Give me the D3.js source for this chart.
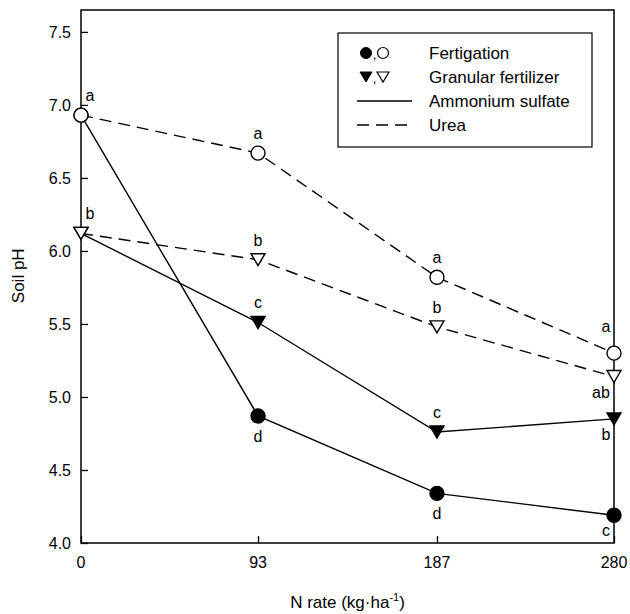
<!DOCTYPE html>
<html>
<head>
<meta charset="utf-8">
<title>Soil pH</title>
<script src="https://d3js.org/d3.v7.min.js"></script>
<style>
  body { margin: 0; background: #fff; }
  text { font-family: Arial, "Liberation Sans", sans-serif; fill: #000; }
</style>
</head>
<body>
<div id="chart"></div>
<script>
// N rates (kg/ha)
var rates = [0, 93, 187, 280];
var yTicks = [4.0, 4.5, 5.0, 5.5, 6.0, 6.5, 7.0, 7.5];

// soil pH per treatment
var fertAS   = [6.93, 4.87, 4.34, 4.19];
var granAS   = [6.12, 5.51, 4.76, 4.85];
var fertUrea = [6.93, 6.67, 5.82, 5.30];
var granUrea = [6.12, 5.94, 5.48, 5.14];

// significance letters (null = none)
var fertASLetters   = [null, "d", "d", "c"];
var granASLetters   = [null, "c", "c", "b"];
var fertUreaLetters = ["a", "a", "a", "a"];
var granUreaLetters = ["b", "b", "b", "ab"];

var W = 630, H = 614;
var x = d3.scaleLinear().domain([0, 280]).range([81, 614]);
var y = d3.scaleLinear().domain([4, 7.65]).range([543, 10]);

var svg = d3.select("#chart").append("svg")
    .attr("width", W).attr("height", H);

// frame
svg.append("rect")
    .attr("x", x(0)).attr("y", y(7.65))
    .attr("width", x(280) - x(0)).attr("height", y(4) - y(7.65))
    .attr("fill", "none").attr("stroke", "#000").attr("stroke-width", 1.5);

// axes with inward ticks
var yAxis = svg.append("g")
    .attr("transform", "translate(" + x(0) + ",0)")
    .call(d3.axisRight(y).tickValues(yTicks).tickSize(7).tickFormat(""));
yAxis.select(".domain").remove();
yAxis.selectAll("line").attr("stroke-width", 1.3);

var xAxis = svg.append("g")
    .attr("transform", "translate(0," + y(4) + ")")
    .call(d3.axisTop(x).tickValues(rates).tickSize(7).tickFormat(""));
xAxis.select(".domain").remove();
xAxis.selectAll("line").attr("stroke-width", 1.3);

// tick labels
svg.selectAll(".ylab").data(yTicks).enter().append("text")
    .attr("x", 71).attr("y", function (d) { return y(d) + 6; })
    .attr("text-anchor", "end").style("font-size", "16px")
    .text(function (d) { return d.toFixed(1); });

svg.selectAll(".xlab").data(rates).enter().append("text")
    .attr("x", function (d) { return x(d); }).attr("y", 568)
    .attr("text-anchor", "middle").style("font-size", "16px")
    .text(function (d) { return d; });

// axis titles
var xt = svg.append("text")
    .attr("x", x(140)).attr("y", 608)
    .attr("text-anchor", "middle").style("font-size", "17px");
xt.append("tspan").text("N rate (kg\u00B7ha");
xt.append("tspan").attr("dy", -7).style("font-size", "11px").text("-1");
xt.append("tspan").attr("dy", 7).text(")");

svg.append("text")
    .attr("transform", "translate(24," + y(5.83) + ") rotate(-90)")
    .attr("text-anchor", "middle").style("font-size", "17px")
    .text("Soil pH");

// lines
var line = d3.line()
    .x(function (d, i) { return x(rates[i]); })
    .y(function (d) { return y(d); });

var series = [
  { v: fertUrea, dash: "12,7", shape: "circle", fill: "#fff", lab: fertUreaLetters },
  { v: granUrea, dash: "12,7", shape: "tri", fill: "#fff", lab: granUreaLetters },
  { v: fertAS, dash: null, shape: "circle", fill: "#000", lab: fertASLetters },
  { v: granAS, dash: null, shape: "tri", fill: "#000", lab: granASLetters }
];

series.forEach(function (s) {
  svg.append("path").datum(s.v)
      .attr("d", line).attr("fill", "none")
      .attr("stroke", "#000").attr("stroke-width", 1.4)
      .attr("stroke-dasharray", s.dash);
});

var triPath = "M-7,-6L7,-6L0,6Z";

// markers: draw filled first, open on top at shared points
[series[2], series[3], series[0], series[1]].forEach(function (s) {
  var g = svg.append("g");
  s.v.forEach(function (d, i) {
    var cx = x(rates[i]), cy = y(d);
    if (s.shape === "circle") {
      g.append("circle").attr("cx", cx).attr("cy", cy).attr("r", 7)
          .attr("fill", s.fill).attr("stroke", "#000").attr("stroke-width", 1.4);
    } else {
      g.append("path").attr("d", triPath)
          .attr("transform", "translate(" + cx + "," + cy + ")")
          .attr("fill", s.fill).attr("stroke", "#000").attr("stroke-width", 1.4);
    }
  });
});

// letters
function letter(txt, px, py) {
  svg.append("text").attr("x", px).attr("y", py)
      .attr("text-anchor", "middle").style("font-size", "16px").text(txt);
}
series.forEach(function (s, k) {
  s.lab.forEach(function (t, i) {
    if (!t) return;
    var px = x(rates[i]), py = y(s.v[i]);
    var below = (k >= 2 && (k === 2 || i === 3)) || (k === 1 && i === 3);
    if (i === 0) px += 9;
    if (i === 3) px -= (t.length > 1 ? 13 : 8);
    if (below) letter(t, px, py + (i === 3 ? 21 : 26));
    else letter(t, px, py - (i === 3 ? 21 : 14));
  });
});

// legend
var lg = svg.append("g");
lg.append("rect").attr("x", 338).attr("y", 33).attr("width", 254).attr("height", 114)
    .attr("fill", "#fff").attr("stroke", "#000").attr("stroke-width", 1.2);

var legRows = [
  { label: "Fertigation", kind: "circle" },
  { label: "Granular fertilizer", kind: "tri" },
  { label: "Ammonium sulfate", kind: "solid" },
  { label: "Urea", kind: "dash" }
];
legRows.forEach(function (r, i) {
  var cy = 53 + i * 24;
  if (r.kind === "circle") {
    lg.append("circle").attr("cx", 366).attr("cy", cy).attr("r", 5.5).attr("fill", "#000").attr("stroke", "#000");
    lg.append("circle").attr("cx", 383).attr("cy", cy).attr("r", 5.5).attr("fill", "#fff").attr("stroke", "#000").attr("stroke-width", 1.2);
  } else if (r.kind === "tri") {
    lg.append("path").attr("d", "M-6,-5L6,-5L0,5Z").attr("transform", "translate(366," + cy + ")").attr("fill", "#000").attr("stroke", "#000");
    lg.append("path").attr("d", "M-6,-5L6,-5L0,5Z").attr("transform", "translate(383," + cy + ")").attr("fill", "#fff").attr("stroke", "#000").attr("stroke-width", 1.2);
  } else {
    lg.append("line").attr("x1", 357).attr("x2", 412).attr("y1", cy).attr("y2", cy)
        .attr("stroke", "#000").attr("stroke-width", 1.4)
        .attr("stroke-dasharray", r.kind === "dash" ? "12,7" : null);
  }
  if (r.kind === "circle" || r.kind === "tri") {
    lg.append("text").attr("x", 374.5).attr("y", cy + 6).attr("text-anchor", "middle")
        .style("font-size", "13px").text(",");
  }
  lg.append("text").attr("x", 429).attr("y", cy + 6).style("font-size", "17px").text(r.label);
});
</script>
</body>
</html>
